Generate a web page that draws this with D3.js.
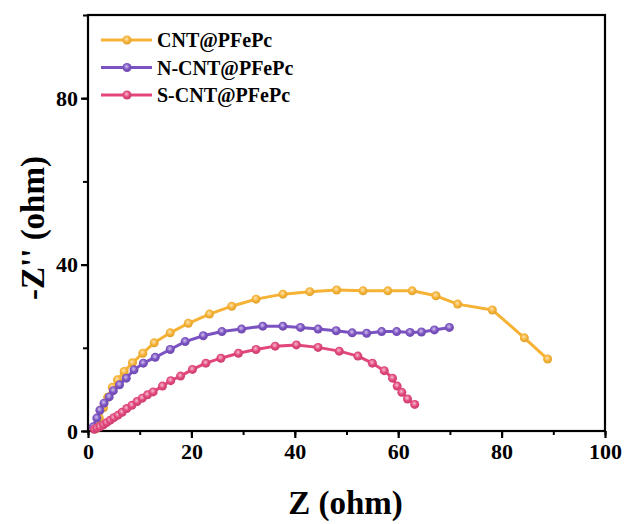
<!DOCTYPE html>
<html>
<head>
<meta charset="utf-8">
<script src="https://cdn.jsdelivr.net/npm/d3@7"></script>
<style>
  html, body { margin: 0; padding: 0; background: #fff; }
  svg { display: block; }
  text { font-family: "Liberation Serif", "Times New Roman", serif; font-weight: bold; fill: #000; }
</style>
</head>
<body>
<svg id="chart" width="630" height="524"></svg>
<script>
// Nyquist data: Z' (real) and -Z'' (imaginary), in ohm
const seriesNames = ["CNT@PFePc", "N-CNT@PFePc", "S-CNT@PFePc"];
const seriesColors = ["#F6B234", "#7B52C2", "#E2467C"];

const cntRe  = [1.5, 2.2, 3.0, 3.8, 4.7, 5.7, 7.0, 8.6, 10.6, 12.8, 15.9, 19.4, 23.5, 27.8, 32.5, 37.7, 42.9, 48.1, 53.2, 58.0, 62.7, 67.3, 71.5, 78.2, 84.4, 88.9];
const cntIm  = [0.5, 3.0, 5.6, 8.1, 10.5, 12.3, 14.3, 16.4, 18.7, 21.2, 23.6, 25.9, 28.1, 30.0, 31.7, 32.9, 33.5, 33.9, 33.7, 33.7, 33.7, 32.5, 30.5, 29.1, 22.4, 17.3];

const ncntRe = [1.0, 1.7, 2.3, 3.1, 4.1, 4.9, 6.1, 7.4, 8.9, 10.7, 13.0, 15.9, 18.8, 22.3, 25.9, 29.7, 33.8, 37.7, 41.1, 44.5, 48.0, 51.1, 53.9, 56.8, 59.7, 62.3, 64.5, 67.0, 69.9];
const ncntIm = [1.0, 3.1, 5.0, 6.7, 8.2, 9.7, 11.1, 12.7, 14.7, 16.3, 17.7, 19.6, 21.5, 22.9, 23.9, 24.5, 25.2, 25.2, 24.9, 24.5, 24.1, 23.6, 23.5, 23.9, 23.9, 23.7, 23.8, 24.3, 24.9];

const scntRe = [1.2, 1.7, 2.3, 3.0, 3.6, 4.3, 5.0, 5.8, 6.6, 7.5, 8.5, 9.5, 10.5, 11.5, 12.6, 14.4, 16.0, 17.9, 20.2, 22.8, 25.7, 29.1, 32.5, 36.2, 40.3, 44.5, 48.6, 52.2, 55.0, 57.3, 58.9, 59.8, 60.7, 61.8, 63.2];
const scntIm = [0.4, 0.7, 1.0, 1.5, 2.0, 2.6, 3.2, 3.8, 4.5, 5.4, 6.2, 7.1, 7.9, 8.7, 9.4, 10.8, 12.1, 13.2, 14.8, 16.3, 17.5, 18.7, 19.6, 20.4, 20.7, 20.1, 19.2, 18.0, 16.3, 14.5, 12.7, 10.8, 9.3, 7.7, 6.4];

const xTickLabels = [0, 20, 40, 60, 80, 100];
const yTickLabels = [0, 40, 80];

const series = [
  { name: seriesNames[0], color: seriesColors[0], re: cntRe,  im: cntIm },
  { name: seriesNames[1], color: seriesColors[1], re: ncntRe, im: ncntIm },
  { name: seriesNames[2], color: seriesColors[2], re: scntRe, im: scntIm }
];

const svg = d3.select("#chart");
const margin = { left: 88, right: 25, top: 15, bottom: 93 };
const W = 630, H = 524;
const x = d3.scaleLinear().domain([0, 100]).range([margin.left, W - margin.right]);
const y = d3.scaleLinear().domain([0, 100]).range([H - margin.bottom, margin.top]);

// shaded ball markers
const defs = svg.append("defs");
series.forEach((s, i) => {
  const g = defs.append("radialGradient")
    .attr("id", "ball" + i).attr("cx", "45%").attr("cy", "40%").attr("r", "60%");
  g.append("stop").attr("offset", "0%").attr("stop-color", d3.interpolateRgb(s.color, "#fff")(0.65));
  g.append("stop").attr("offset", "55%").attr("stop-color", s.color);
  g.append("stop").attr("offset", "100%").attr("stop-color", d3.color(s.color).darker(0.3));
});

// frame
svg.append("rect")
  .attr("x", x(0)).attr("y", y(100))
  .attr("width", x(100) - x(0)).attr("height", y(0) - y(100))
  .attr("fill", "none").attr("stroke", "#000").attr("stroke-width", 2.2);

// x axis: minor ticks every 10, labels every 20
const xAxisG = svg.append("g").attr("transform", `translate(0,${y(0)})`);
xAxisG.call(d3.axisBottom(x).tickValues(d3.range(0, 101, 10)).tickSize(4).tickFormat(""));
xAxisG.call(g => g.selectAll(".tick line").attr("stroke-width", 2));
const xMajor = svg.append("g").attr("transform", `translate(0,${y(0)})`)
  .call(d3.axisBottom(x).tickValues(xTickLabels).tickSize(7).tickPadding(5));
xMajor.selectAll(".tick line").attr("stroke-width", 2.2);
xMajor.selectAll(".tick text").attr("font-size", 22).attr("font-family", "Liberation Serif").attr("font-weight", "bold");
svg.selectAll(".domain").remove();

// y axis
const yAxisG = svg.append("g").attr("transform", `translate(${x(0)},0)`);
yAxisG.call(d3.axisLeft(y).tickValues(d3.range(0, 101, 20)).tickSize(5).tickFormat(""));
yAxisG.selectAll(".tick line").attr("stroke-width", 2);
const yMajor = svg.append("g").attr("transform", `translate(${x(0)},0)`)
  .call(d3.axisLeft(y).tickValues(yTickLabels).tickSize(7).tickPadding(3));
yMajor.selectAll(".tick line").attr("stroke-width", 2.2);
yMajor.selectAll(".tick text").attr("font-size", 22).attr("font-family", "Liberation Serif").attr("font-weight", "bold");
svg.selectAll(".domain").remove();

// axis titles
svg.append("text").attr("x", (x(0) + x(100)) / 2 - 1).attr("y", 514)
  .attr("text-anchor", "middle").attr("font-size", 33).text("Z (ohm)");
svg.append("text").attr("transform", `translate(44,228) rotate(-90)`)
  .attr("text-anchor", "middle").attr("font-size", 33).text("-Z'' (ohm)");

// curves
const line = d3.line().x(d => x(d[0])).y(d => y(d[1]));
series.forEach((s, i) => {
  const pts = s.re.map((v, k) => [v, s.im[k]]);
  svg.append("path").datum(pts).attr("d", line)
    .attr("fill", "none").attr("stroke", s.color).attr("stroke-width", 3)
    .attr("stroke-linejoin", "round");
  svg.append("g").selectAll("circle").data(pts).join("circle")
    .attr("cx", d => x(d[0])).attr("cy", d => y(d[1])).attr("r", 4.5)
    .attr("fill", `url(#ball${i})`);
});

// legend
const legend = svg.append("g");
series.forEach((s, i) => {
  const ly = 40 + i * 27.5;
  legend.append("line").attr("x1", 101).attr("x2", 152).attr("y1", ly).attr("y2", ly)
    .attr("stroke", s.color).attr("stroke-width", 3);
  legend.append("circle").attr("cx", 127).attr("cy", ly).attr("r", 4.5).attr("fill", `url(#ball${i})`);
  legend.append("text").attr("x", 157).attr("y", ly + 7).attr("font-size", 20).text(s.name);
});
</script>
</body>
</html>
